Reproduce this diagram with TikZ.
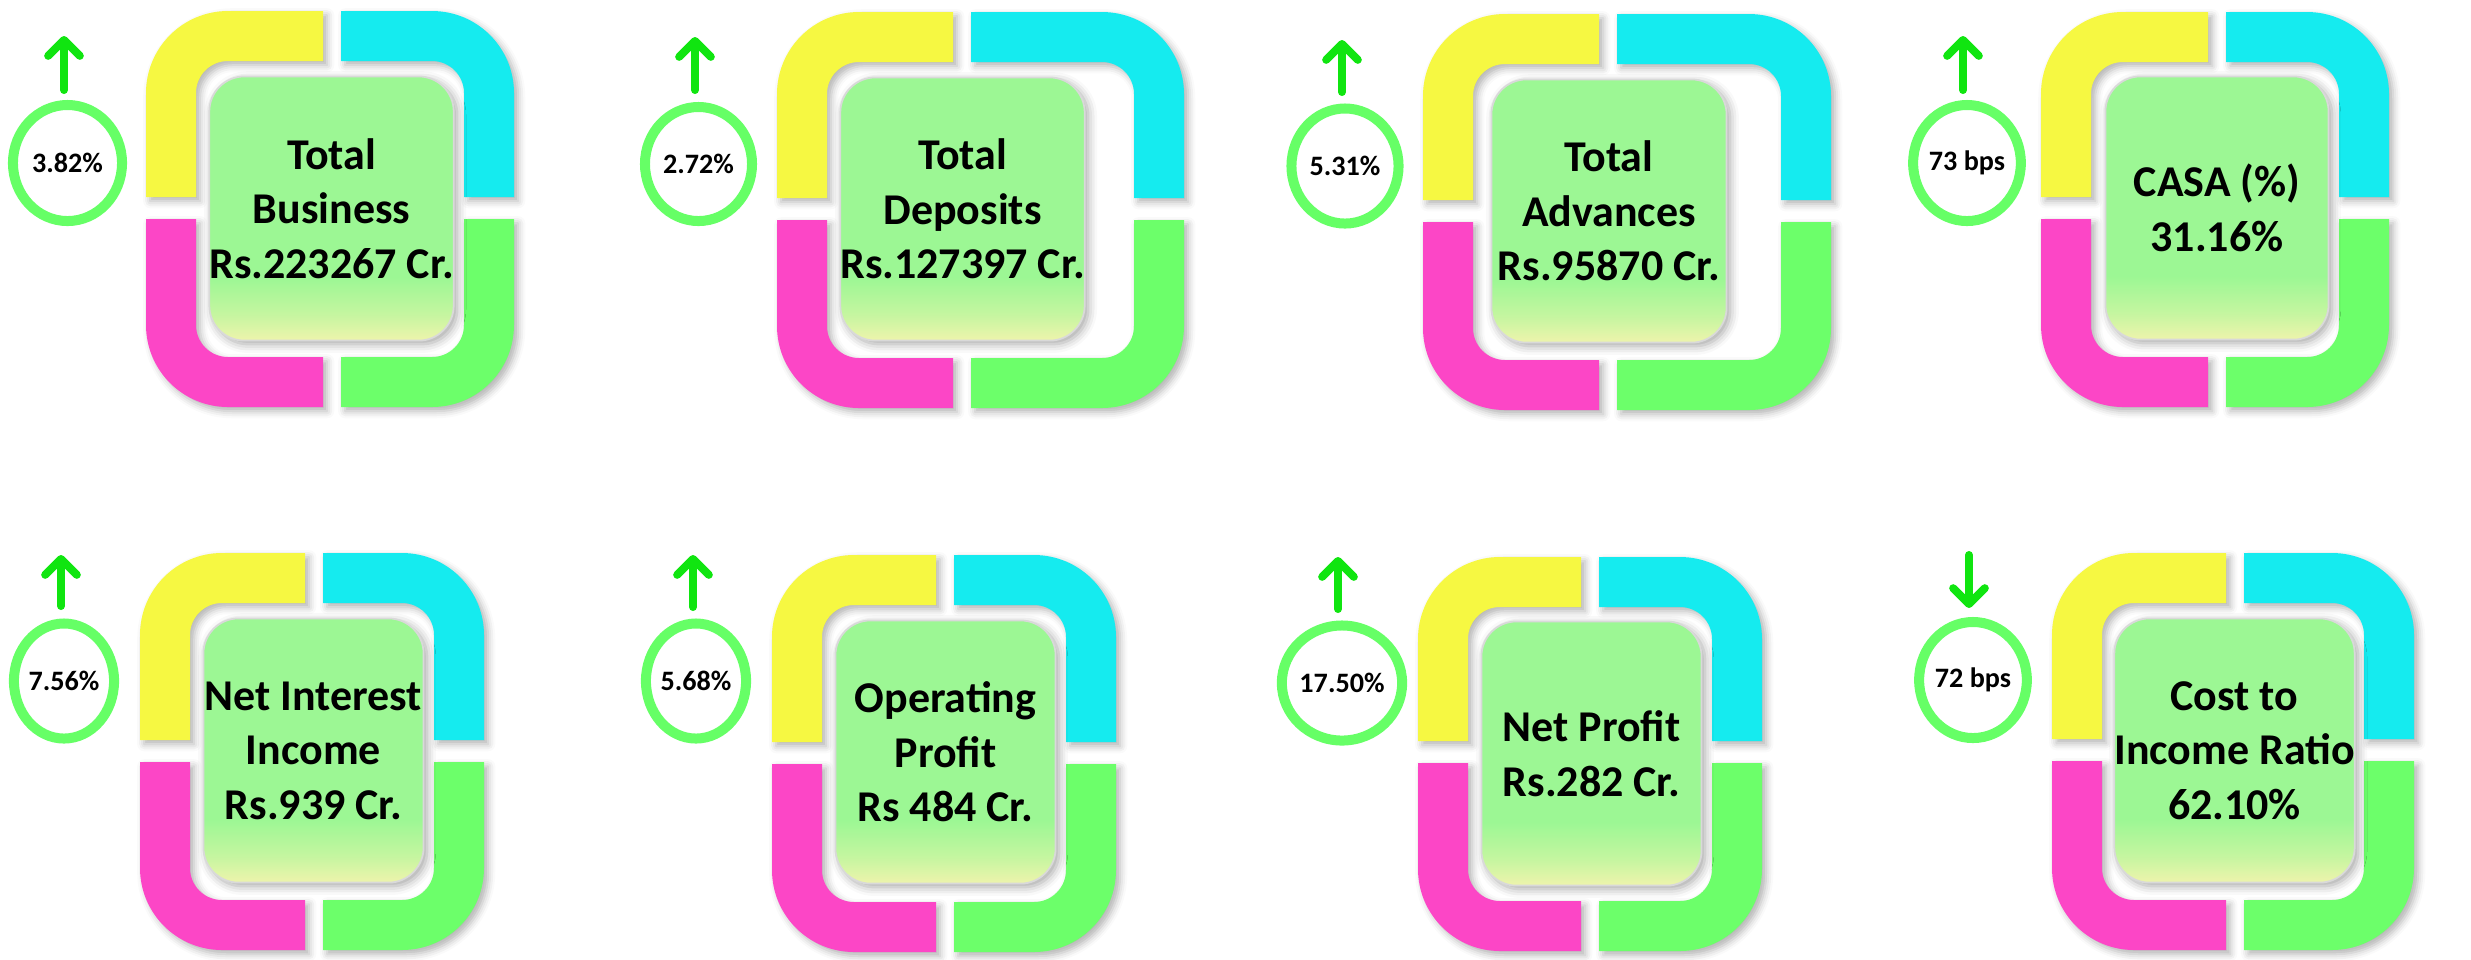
\documentclass[tikz,border=0pt]{standalone}
\usepackage{fontspec}
\setmainfont{Carlito}
\usetikzlibrary{shapes.geometric, arrows.meta, shadows.blur}
\definecolor{kpiyellow}{HTML}{F6F842}
\definecolor{kpicyan}{HTML}{15EBEF}
\definecolor{kpimagenta}{HTML}{FC46C6}
\definecolor{kpigreen}{HTML}{6CFF6A}
\definecolor{boxgreen}{HTML}{9CF794}
\definecolor{boxpale}{HTML}{EEF4AC}
\definecolor{ringgreen}{HTML}{66FF66}
\definecolor{arrowgreen}{HTML}{10E510}
\pgfdeclareverticalshading{boxshade}{100bp}{color(0bp)=(boxpale); color(25bp)=(boxpale); color(30bp)=(boxpale!50!boxgreen); color(37bp)=(boxgreen); color(100bp)=(boxgreen)}

\tikzset{
  kpibox/.style={rectangle, rounded corners=0.35cm, draw=white!70!gray, line width=0.5pt, shading=boxshade, inner sep=0pt, align=center, font=\fontsize{12.5}{15.5}\selectfont\bfseries, blur shadow={shadow xshift=1pt, shadow yshift=-1pt, shadow blur radius=2.5pt, shadow opacity=35}},
  ratering/.style={ellipse, draw=ringgreen, line width=0.1cm, fill=white, inner sep=0pt, font=\fontsize{8}{9.6}\selectfont\bfseries},
  trendarrow/.style={draw=arrowgreen, line width=0.08cm, line cap=round, -{Straight Barb[length=4.5pt, width=9pt, round]}},
  ringpiece/.style={blur shadow={shadow xshift=1.2pt, shadow yshift=-1.2pt, shadow blur radius=2pt, shadow opacity=30}}
}

% four L-shaped pieces round a box: x0, y0, x1, y1, gap x, gap y (pixels, y down)
\newcommand{\kpiring}[6]{%
  \fill[kpiyellow, ringpiece] (#1,#6-11) -- (#1,#2+82) arc[start angle=180, end angle=270, radius=82] -- (#5-9,#2) -- (#5-9,#2+50) -- (#1+82,#2+50) arc[start angle=270, end angle=180, radius=32] -- (#1+50,#6-11) -- cycle;
  \fill[kpicyan, ringpiece] (#5+9,#2) -- (#3-82,#2) arc[start angle=270, end angle=360, radius=82] -- (#3,#6-11) -- (#3-50,#6-11) -- (#3-50,#2+82) arc[start angle=0, end angle=-90, radius=32] -- (#5+9,#2+50) -- cycle;
  \fill[kpigreen, ringpiece] (#3,#6+11) -- (#3,#4-82) arc[start angle=0, end angle=90, radius=82] -- (#5+9,#4) -- (#5+9,#4-50) -- (#3-82,#4-50) arc[start angle=90, end angle=0, radius=32] -- (#3-50,#6+11) -- cycle;
  \fill[kpimagenta, ringpiece] (#5-9,#4) -- (#1+82,#4) arc[start angle=90, end angle=180, radius=82] -- (#1,#6+11) -- (#1+50,#6+11) -- (#1+50,#4-82) arc[start angle=180, end angle=90, radius=32] -- (#5-9,#4-50) -- cycle;
}

\begin{document}
\begin{tikzpicture}[x=0.01cm, y=-0.01cm]
\useasboundingbox (0,0) rectangle (2471,959);

% Top row
\kpiring{146}{11}{514}{407}{332}{208}
\kpiring{777}{12}{1184}{408}{962}{209}
\kpiring{1423}{14}{1831}{410}{1608}{211}
\kpiring{2041}{12}{2389}{407}{2217}{208}

\node[kpibox, minimum width=2.36cm, minimum height=2.64cm] (tbbox) at (331.5,208.5) {Total\\Business\\Rs.223267 Cr.};
\node[kpibox, minimum width=2.34cm, minimum height=2.63cm] (tdbox) at (962.5,209) {Total\\Deposits\\Rs.127397 Cr.};
\node[kpibox, minimum width=2.35cm, minimum height=2.63cm] (tabox) at (1609,211) {Total\\Advances\\Rs.95870 Cr.};
\node[kpibox, minimum width=2.23cm, minimum height=2.63cm] (casabox) at (2217,208) {CASA (\%)\\31.16\%};

\node[ratering, minimum width=1.09cm, minimum height=1.16cm] (tbrate) at (67.5,163) {3.82\%};
\node[ratering, minimum width=1.07cm, minimum height=1.14cm] (tdrate) at (698.5,164) {2.72\%};
\node[ratering, minimum width=1.07cm, minimum height=1.15cm] (tarate) at (1345,166) {5.31\%};
\node[ratering, minimum width=1.02cm, minimum height=1.16cm] (casarate) at (1967,163) {73 bps};

\coordinate (tbtail) at (64,90);     \coordinate (tbtip) at (64,36);
\coordinate (tdtail) at (695,90);    \coordinate (tdtip) at (695,37);
\coordinate (tatail) at (1342,92);   \coordinate (tatip) at (1342,40);
\coordinate (casatail) at (1963,90); \coordinate (casatip) at (1963,36);
\draw[trendarrow] (tbtail) -- (tbtip);
\draw[trendarrow] (tdtail) -- (tdtip);
\draw[trendarrow] (tatail) -- (tatip);
\draw[trendarrow] (casatail) -- (casatip);

% Bottom row
\kpiring{140}{553}{484}{950}{314}{751}
\kpiring{772}{555}{1116}{952}{945}{753}
\kpiring{1418}{557}{1762}{951}{1590}{752}
\kpiring{2052}{553}{2414}{950}{2235}{750}

\node[kpibox, minimum width=2.20cm, minimum height=2.64cm] (niibox) at (313.5,750.5) {Net Interest\\Income\\Rs.939 Cr.};
\node[kpibox, minimum width=2.20cm, minimum height=2.63cm] (opbox) at (945.5,752) {Operating\\Profit\\Rs 484 Cr.};
\node[kpibox, minimum width=2.20cm, minimum height=2.64cm] (npbox) at (1591.5,753.5) {Net Profit\\Rs.282 Cr.};
\node[kpibox, minimum width=2.32cm, minimum height=2.64cm] (cirbox) at (2234.5,750.5) {Cost to\\Income Ratio\\62.10\%};

\node[ratering, minimum width=1.00cm, minimum height=1.15cm] (niirate) at (64,681) {7.56\%};
\node[ratering, minimum width=1.00cm, minimum height=1.15cm] (oprate) at (696,681) {5.68\%};
\node[ratering, minimum width=1.00cm, minimum height=1.15cm] (nprate) at (1342,683) {17.50\%};
\node[ratering, minimum width=1.06cm, minimum height=1.16cm] (cirrate) at (1973,680) {72 bps};

\coordinate (niitail) at (61,606);   \coordinate (niitip) at (61,555);
\coordinate (optail) at (693,607);   \coordinate (optip) at (693,555);
\coordinate (nptail) at (1338,609);  \coordinate (nptip) at (1338,557);
\coordinate (cirtail) at (1969,555); \coordinate (cirtip) at (1969,608);
\draw[trendarrow] (niitail) -- (niitip);
\draw[trendarrow] (optail) -- (optip);
\draw[trendarrow] (nptail) -- (nptip);
\draw[trendarrow] (cirtail) -- (cirtip);
\end{tikzpicture}
\end{document}
